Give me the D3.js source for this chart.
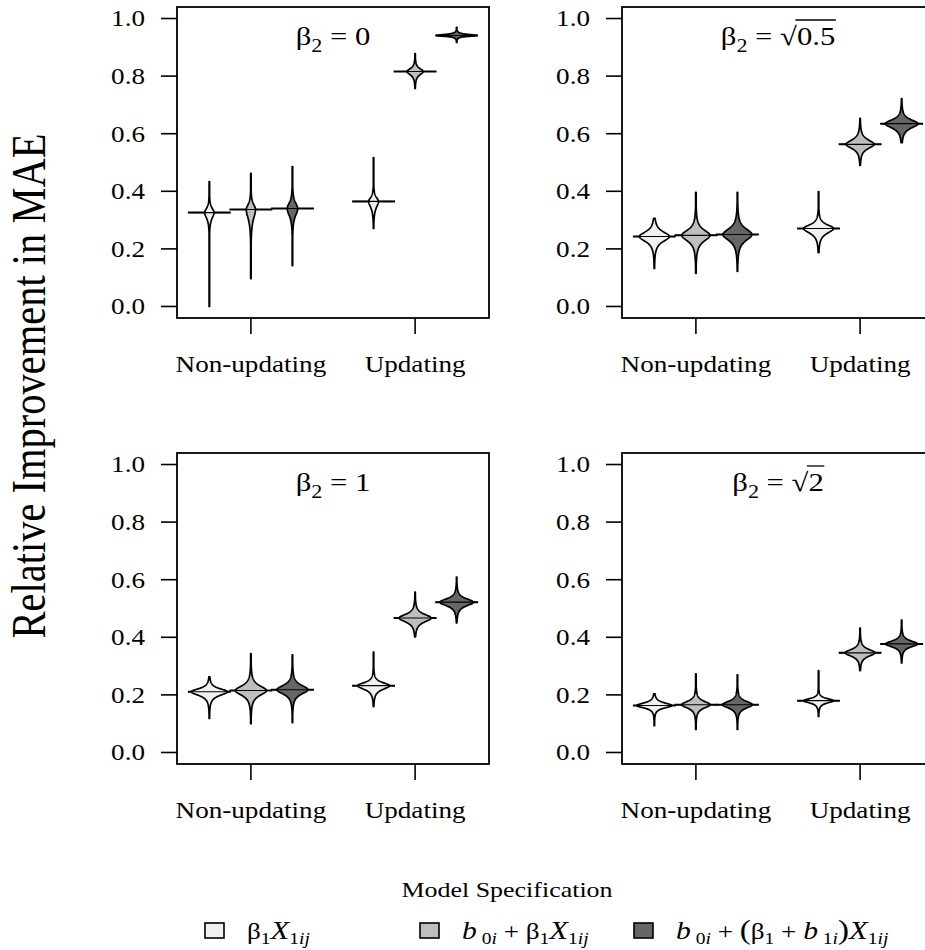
<!DOCTYPE html>
<html>
<head>
<meta charset="utf-8">
<script src="https://cdn.jsdelivr.net/npm/d3@7"></script>
<style>
  body { margin: 0; background: #fff; }
  text { font-family: "Liberation Serif", "Times New Roman", serif; fill: #000; }
</style>
</head>
<body>
<svg id="chart" width="925" height="950"></svg>
<script>
'use strict';

// ---- data ----
const groups = ['Non-updating', 'Updating'];
const groupAt = [1, 2];
const yTicks = [0, 0.2, 0.4, 0.6, 0.8, 1.0];
const modelLabels = ['m1', 'm2', 'm3'];

// one row per bean: [low tail, body low, beanline, body high, high tail, peak density]
// rows: non-updating m1..m3, then updating m1..m3
const beansBeta0 = [
  [0.000, 0.267, 0.326, 0.372, 0.434, 0.22],
  [0.097, 0.243, 0.337, 0.389, 0.462, 0.22],
  [0.142, 0.267, 0.340, 0.399, 0.486, 0.25],
  [0.271, 0.302, 0.365, 0.406, 0.517, 0.23],
  [0.757, 0.781, 0.816, 0.847, 0.878, 0.38],
  [0.917, 0.932, 0.941, 0.952, 0.969, 0.95]
];
const beansBetaHalf = [
  [0.132, 0.191, 0.243, 0.292, 0.306, 0.71],
  [0.115, 0.188, 0.247, 0.302, 0.396, 0.67],
  [0.122, 0.188, 0.250, 0.309, 0.396, 0.69],
  [0.187, 0.222, 0.271, 0.309, 0.399, 0.71],
  [0.490, 0.521, 0.563, 0.608, 0.653, 0.67],
  [0.569, 0.590, 0.635, 0.674, 0.722, 0.78]
];
const beansBeta1 = [
  [0.118, 0.173, 0.211, 0.242, 0.263, 0.86],
  [0.100, 0.166, 0.215, 0.263, 0.343, 0.74],
  [0.104, 0.173, 0.218, 0.263, 0.339, 0.74],
  [0.159, 0.194, 0.232, 0.263, 0.349, 0.76],
  [0.401, 0.426, 0.467, 0.505, 0.557, 0.76],
  [0.450, 0.484, 0.522, 0.557, 0.609, 0.80]
];
const beansBetaSqrt2 = [
  [0.093, 0.138, 0.163, 0.190, 0.204, 0.83],
  [0.080, 0.131, 0.166, 0.201, 0.273, 0.67],
  [0.080, 0.131, 0.166, 0.201, 0.270, 0.71],
  [0.125, 0.156, 0.180, 0.201, 0.284, 0.71],
  [0.284, 0.311, 0.346, 0.381, 0.432, 0.71],
  [0.311, 0.346, 0.377, 0.408, 0.460, 0.76]
];
const panelBeans = [beansBeta0, beansBetaHalf, beansBeta1, beansBetaSqrt2];
const panelValues = ['0', '0.5', '1', '2'];
const panelRadical = [false, true, false, true];

// ---- layout ----
const fills = ['#f0f0f0', '#bebebe', '#666666'];
const stretch = 1.18;          // the picture is a bit wider than tall
const panelW = 312, panelH = 311;
const panelPos = [[177, 7], [622, 7], [177, 453], [622, 453]];
const beanStep = 0.253, slotHalf = 0.128;

const svg = d3.select('#chart');

function stext(parent, x, y, str, size, anchor) {
  return parent.append('g').attr('transform', `translate(${x},${y}) scale(${stretch},1)`)
    .append('text').attr('text-anchor', anchor || 'start').attr('font-size', size).text(str);
}

// builds text with sub/italic pieces: parts = [{t, it, sub, size}]
function mathText(parent, x, y, parts, size, anchor, drop) {
  const t = parent.append('g').attr('transform', `translate(${x},${y}) scale(${stretch},1)`)
    .append('text').attr('text-anchor', anchor || 'start').attr('font-size', size);
  let down = false;
  const dd = size * (drop || 0.25);
  parts.forEach(p => {
    const s = t.append('tspan').text(p.t);
    if (p.it) s.attr('font-style', 'italic');
    if (p.sub) s.attr('font-size', size * 0.72);
    if (p.size) s.attr('font-size', p.size);
    if (p.sub && !down) { s.attr('dy', dd); down = true; }
    if (!p.sub && down) { s.attr('dy', -dd); down = false; }
  });
  return t;
}

function beanProfile(b) {
  const [lo, bLo, med, bHi, hi, dens] = b;
  const n = 200, pts = [];
  for (let i = 0; i <= n; i++) {
    const v = lo + (hi - lo) * i / n;
    const d = v - med;
    const s = (d >= 0 ? bHi - med : med - bLo) / 1.9;
    const w = dens / Math.pow(1 + (d / s) * (d / s), 1.5);
    pts.push({ v: v, w: Math.max(w, 0.012) });
  }
  return pts;
}

panelPos.forEach(([px, py], pi) => {
  const x = d3.scaleLinear().domain([0.55, 2.45]).range([px, px + panelW]);
  const y = d3.scaleLinear().domain([-0.04, 1.04]).range([py + panelH, py]);
  const g = svg.append('g');

  // y axis
  const yAxis = g.append('g');
  yAxis.selectAll('line').data(yTicks).join('line')
    .attr('x1', px - 16).attr('x2', px).attr('y1', d => y(d)).attr('y2', d => y(d))
    .attr('stroke', '#000').attr('stroke-width', 1.6);
  yTicks.forEach(d => stext(yAxis, px - 32, y(d) + 7.8, d3.format('.1f')(d), 23, 'end'));

  // x axis
  const xAxis = g.append('g');
  xAxis.selectAll('line').data(groupAt).join('line')
    .attr('x1', d => x(d)).attr('x2', d => x(d)).attr('y1', py + panelH).attr('y2', py + panelH + 16)
    .attr('stroke', '#000').attr('stroke-width', 1.6);
  groups.forEach((lab, i) => stext(xAxis, x(groupAt[i]), py + panelH + 54, lab, 23, 'middle'));

  // beans
  panelBeans[pi].forEach((b, k) => {
    const gi = Math.floor(k / 3), mi = k % 3;
    const cx = groupAt[gi] + (mi - 1) * beanStep;
    const area = d3.area()
      .y(d => y(d.v))
      .x0(d => x(cx - d.w * slotHalf))
      .x1(d => x(cx + d.w * slotHalf));
    g.append('line')
      .attr('x1', x(cx - slotHalf * 1.02)).attr('x2', x(cx + slotHalf * 1.02))
      .attr('y1', y(b[2])).attr('y2', y(b[2]))
      .attr('stroke', '#000').attr('stroke-width', 2);
    g.append('path').attr('d', area(beanProfile(b)))
      .attr('fill', fills[mi]).attr('stroke', '#000').attr('stroke-width', 1.7)
      .attr('stroke-linejoin', 'round');
    g.append('line')
      .attr('x1', x(cx - slotHalf)).attr('x2', x(cx + slotHalf))
      .attr('y1', y(b[2])).attr('y2', y(b[2]))
      .attr('stroke', '#000').attr('stroke-width', 1.1);
  });

  // box
  g.append('rect').attr('x', px).attr('y', py).attr('width', panelW).attr('height', panelH)
    .attr('fill', 'none').attr('stroke', '#000').attr('stroke-width', 1.8);

  // title
  const parts = [{ t: 'β' }, { t: '2', sub: true }, { t: ' = ' + (panelRadical[pi] ? '√' : '') }, { t: panelValues[pi] }];
  const tt = mathText(g, px + panelW / 2, py + 38, parts, 26, 'middle', 0.27);
  if (panelRadical[pi]) {
    const s0 = ('β2 = √').length;
    const n = panelValues[pi].length;
    const eR = tt.node().getExtentOfChar(s0 - 1);
    const eEnd = tt.node().getExtentOfChar(s0 + n - 1);
    tt.select(function () { return this.parentNode; }).append('line')
      .attr('x1', eR.x + eR.width - 1.2).attr('x2', eEnd.x + eEnd.width + 0.5)
      .attr('y1', -25).attr('y2', -25)
      .attr('stroke', '#000').attr('stroke-width', 1.3);
  }
});

// y label
svg.append('g').attr('transform', `translate(45,386) scale(${stretch},1) rotate(-90)`)
  .append('text').attr('text-anchor', 'middle').attr('font-size', 40.5)
  .text('Relative Improvement in MAE');

// legend
stext(svg, 507, 897, 'Model Specification', 22, 'middle');
const legendParts = [
  [{ t: 'β' }, { t: '1', sub: true }, { t: 'X', it: true, size: 26 }, { t: '1', sub: true }, { t: 'ij', sub: true, it: true }],
  [{ t: 'b', it: true, size: 25 }, { t: ' 0', sub: true }, { t: 'i', sub: true, it: true }, { t: ' + β' }, { t: '1', sub: true },
   { t: 'X', it: true, size: 26 }, { t: '1', sub: true }, { t: 'ij', sub: true, it: true }],
  [{ t: 'b', it: true, size: 25 }, { t: ' 0', sub: true }, { t: 'i', sub: true, it: true }, { t: ' + ' }, { t: '(', size: 28 }, { t: 'β' },
   { t: '1', sub: true }, { t: ' + ' }, { t: 'b', it: true, size: 25 }, { t: ' 1', sub: true }, { t: 'i', sub: true, it: true },
   { t: ')', size: 28 }, { t: 'X', it: true, size: 26 }, { t: '1', sub: true }, { t: 'ij', sub: true, it: true }]
];
const legendX = [205, 420, 634];
modelLabels.forEach((m, i) => {
  svg.append('rect').attr('x', legendX[i]).attr('y', 923).attr('width', 19).attr('height', 15)
    .attr('fill', fills[i]).attr('stroke', '#000').attr('stroke-width', 1.6);
  mathText(svg, legendX[i] + 42, 939, legendParts[i], 23, 'start', 0.2);
});
</script>
</body>
</html>
